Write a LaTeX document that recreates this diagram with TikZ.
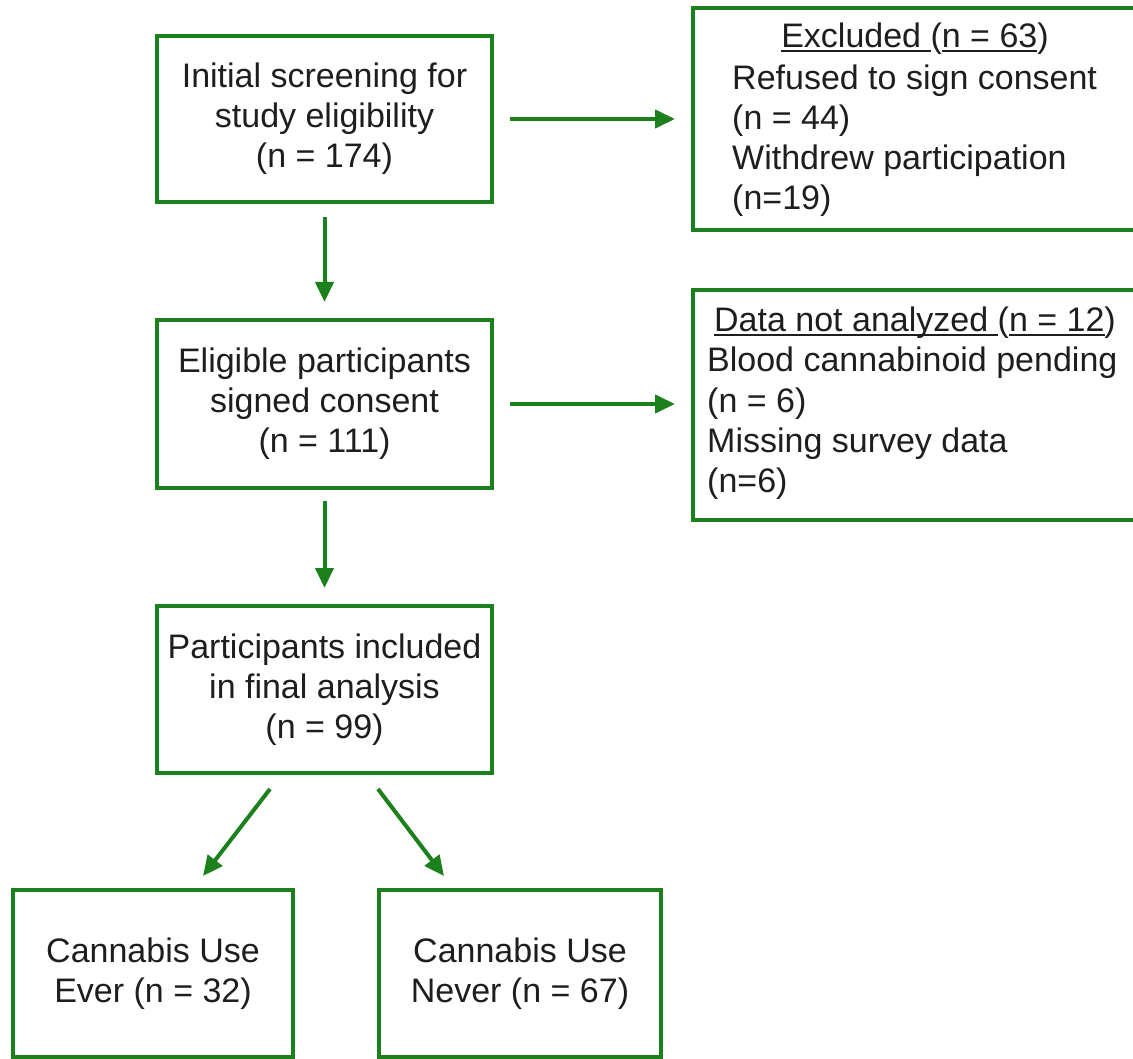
\documentclass[tikz,border=0pt]{standalone}
\usepackage{fontspec}
\setmainfont{Liberation Sans}
\usetikzlibrary{arrows.meta,calc}
\definecolor{boxgreen}{RGB}{28,128,28}
\definecolor{txt}{RGB}{30,30,30}
\newcommand\ulin[1]{\setbox0\hbox{#1}\rlap{\rule[-4.5pt]{\wd0}{2pt}}\box0}
\begin{document}
\begin{tikzpicture}[x=1pt,y=-1pt,
  box/.style={draw=boxgreen, line width=4pt, inner sep=0pt, align=center, text=txt, font=\fontsize{34}{40}\selectfont},
  arr/.style={draw=boxgreen, line width=4pt, -{Triangle[length=20pt,width=18pt]}},
  lbl/.style={inner sep=0pt, text=txt, font=\fontsize{34}{40}\selectfont}]
\useasboundingbox (0,0) rectangle (1133,1059);
\fill[white] (0,0) rectangle (1133,1059);

% main column
\node[box, minimum width=335pt, minimum height=166pt] (b1) at (324.5,119) {Initial screening for\\study eligibility\\(n = 174)};
\node[box, minimum width=335pt, minimum height=168pt] (b2) at (324.5,404) {Eligible participants\\signed consent\\(n = 111)};
\node[box, minimum width=335pt, minimum height=167pt] (b3) at (324.5,689.5) {Participants included\\in final analysis\\(n = 99)};
\node[box, minimum width=280pt, minimum height=167pt] (bl) at (153,973.5) {Cannabis Use\\Ever (n = 32)};
\node[box, minimum width=282pt, minimum height=167pt] (br) at (520,973.5) {Cannabis Use\\Never (n = 67)};

% side boxes
\node[box, minimum width=445pt, minimum height=222pt] (exc) at (915.5,119) {};
\node[lbl, anchor=base] (exct) at (915,48) {\ulin{Excluded }(\ulin{n = 63})};
\node[lbl, anchor=base west] (exc1) at (732,90) {Refused to sign consent};
\node[lbl, anchor=base west] (exc2) at (732,130) {(n = 44)};
\node[lbl, anchor=base west] (exc3) at (732,170) {Withdrew participation};
\node[lbl, anchor=base west] (exc4) at (732,210) {(n=19)};

\node[box, minimum width=445pt, minimum height=230pt] (dat) at (915.5,405) {};
\node[lbl, anchor=base] (datt) at (915,332) {\ulin{Data not analyzed }(\ulin{n = 12})};
\node[lbl, anchor=base west] (dat1) at (707,372) {Blood cannabinoid pending};
\node[lbl, anchor=base west] (dat2) at (707,412) {(n = 6)};
\node[lbl, anchor=base west] (dat3) at (707,452) {Missing survey data};
\node[lbl, anchor=base west] (dat4) at (707,492) {(n=6)};

% connectors
\draw[arr, shorten <=16pt, shorten >=16pt] (b1.east) -- (b1.east -| exc.west);
\draw[arr, shorten <=16pt, shorten >=16pt] (b2.east) -- (b2.east -| dat.west);
\draw[arr, shorten <=13pt, shorten >=16pt] (b1.south) -- (b2.north);
\draw[arr, shorten <=11pt, shorten >=16pt] (b2.south) -- (b3.north);
\draw[arr] ($(b3.south)+(-54.5,14)$) -- ($(bl.north)+(50,-12)$);
\draw[arr] ($(b3.south)+(53.5,14)$) -- ($(br.north)+(-76,-12)$);
\end{tikzpicture}
\end{document}
